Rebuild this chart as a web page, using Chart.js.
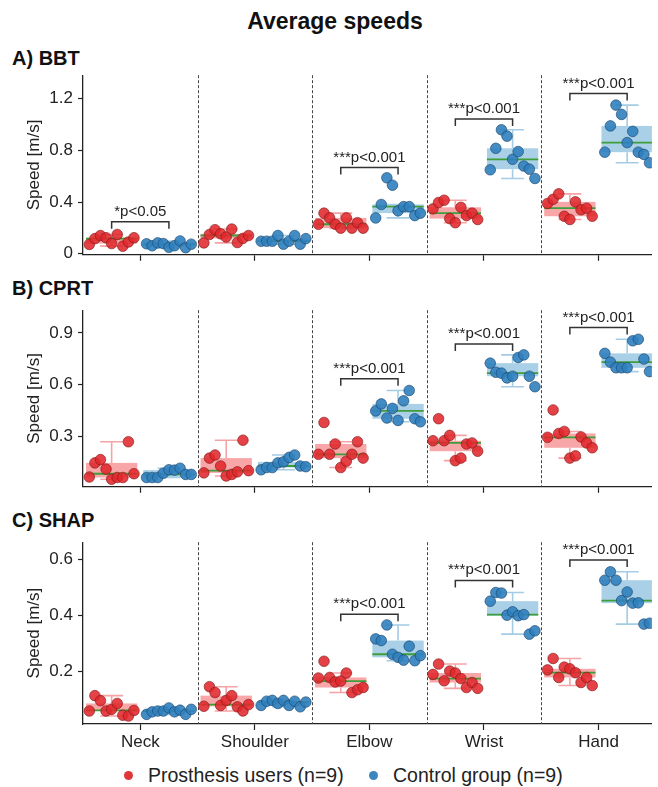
<!DOCTYPE html>
<html>
<head>
<meta charset="utf-8">
<script src="https://cdn.jsdelivr.net/npm/chart.js@4.4.1/dist/chart.umd.min.js"></script>
<style>
  body { margin: 0; background: #fff; overflow: hidden; font-family: "Liberation Sans", Arial, sans-serif; color: #111; }
  #page { position: relative; width: 658px; height: 787px; }
  .abs { position: absolute; white-space: nowrap; line-height: 1; }
  .title { font-weight: bold; font-size: 23px; left: 0; width: 670px; text-align: center; top: 10px; }
  .panel { font-weight: bold; font-size: 20px; left: 12px; }
  canvas { position: absolute; left: 0; }
  .dot { position: absolute; width: 9px; height: 9px; border-radius: 50%; }
  .leg { font-size: 19.5px; color: #222; }
</style>
</head>
<body>
<div id="page">
  <div class="abs title">Average speeds</div>
  <div class="abs panel" style="top:48px">A) BBT</div>
  <div class="abs panel" style="top:278px">B) CPRT</div>
  <div class="abs panel" style="top:510px">C) SHAP</div>
  <canvas id="chartA" width="658" height="210" style="top:60px"></canvas>
  <canvas id="chartB" width="658" height="207" style="top:295px"></canvas>
  <canvas id="chartC" width="658" height="227" style="top:527px"></canvas>
  <div class="dot" style="left:124px; top:771px; background:#e0363a"></div>
  <div class="abs leg" style="left:148px; top:766px">Prosthesis users (n=9)</div>
  <div class="dot" style="left:369px; top:771px; background:#3a87c0"></div>
  <div class="abs leg" style="left:393px; top:766px">Control group (n=9)</div>
</div>
<script>
Chart.defaults.font.family = '"Liberation Sans", Arial, sans-serif';

const joints = ["Neck", "Shoulder", "Elbow", "Wrist", "Hand"];

// each joint: 9 speeds in left-to-right order as plotted
const bbtProsthesis = [
  [0.072, 0.117, 0.141, 0.124, 0.079, 0.149, 0.059, 0.091, 0.124],
  [0.084, 0.149, 0.186, 0.154, 0.129, 0.191, 0.087, 0.119, 0.141],
  [0.228, 0.314, 0.277, 0.228, 0.198, 0.277, 0.198, 0.240, 0.198],
  [0.347, 0.396, 0.414, 0.272, 0.240, 0.359, 0.295, 0.314, 0.265],
  [0.389, 0.421, 0.463, 0.290, 0.265, 0.401, 0.340, 0.352, 0.290]
];
const bbtControl = [
  [0.077, 0.062, 0.084, 0.079, 0.050, 0.062, 0.099, 0.047, 0.074],
  [0.097, 0.097, 0.097, 0.141, 0.074, 0.097, 0.141, 0.074, 0.117],
  [0.277, 0.381, 0.587, 0.530, 0.332, 0.364, 0.364, 0.295, 0.314],
  [0.649, 0.815, 0.958, 0.909, 0.730, 0.790, 0.678, 0.654, 0.582],
  [0.785, 0.988, 1.149, 1.077, 0.859, 0.946, 0.785, 0.768, 0.703]
];
const cprtProsthesis = [
  [0.062, 0.144, 0.163, 0.108, 0.049, 0.059, 0.059, 0.267, 0.081],
  [0.086, 0.172, 0.190, 0.126, 0.068, 0.077, 0.092, 0.276, 0.099],
  [0.194, 0.379, 0.194, 0.254, 0.117, 0.154, 0.194, 0.267, 0.172],
  [0.273, 0.401, 0.273, 0.304, 0.157, 0.172, 0.254, 0.260, 0.212],
  [0.293, 0.452, 0.315, 0.327, 0.172, 0.185, 0.295, 0.260, 0.232]
];
const cprtControl = [
  [0.059, 0.059, 0.059, 0.084, 0.104, 0.102, 0.113, 0.077, 0.077],
  [0.104, 0.117, 0.117, 0.144, 0.150, 0.176, 0.190, 0.126, 0.122],
  [0.446, 0.487, 0.405, 0.461, 0.391, 0.505, 0.565, 0.401, 0.383],
  [0.724, 0.671, 0.666, 0.638, 0.648, 0.757, 0.772, 0.648, 0.587],
  [0.781, 0.730, 0.697, 0.697, 0.697, 0.854, 0.863, 0.748, 0.675]
];
const shapProsthesis = [
  [0.057, 0.112, 0.094, 0.057, 0.063, 0.084, 0.042, 0.039, 0.059],
  [0.074, 0.144, 0.123, 0.077, 0.095, 0.112, 0.072, 0.057, 0.080],
  [0.175, 0.235, 0.177, 0.161, 0.164, 0.193, 0.123, 0.133, 0.141],
  [0.188, 0.225, 0.165, 0.200, 0.193, 0.173, 0.141, 0.159, 0.138],
  [0.204, 0.245, 0.177, 0.214, 0.208, 0.194, 0.159, 0.177, 0.148]
];
const shapControl = [
  [0.045, 0.054, 0.057, 0.057, 0.068, 0.054, 0.060, 0.045, 0.063],
  [0.077, 0.092, 0.095, 0.084, 0.095, 0.077, 0.092, 0.072, 0.089],
  [0.315, 0.309, 0.365, 0.260, 0.249, 0.239, 0.289, 0.237, 0.255],
  [0.450, 0.481, 0.479, 0.400, 0.412, 0.398, 0.402, 0.332, 0.344],
  [0.525, 0.555, 0.525, 0.452, 0.483, 0.443, 0.444, 0.368, 0.371]
];

const bbtTicks = [0, 0.4, 0.8, 1.2];
const bbtTickLabels = ["0", "0.4", "0.8", "1.2"];
const cprtTicks = [0.3, 0.6, 0.9];
const cprtTickLabels = ["0.3", "0.6", "0.9"];
const shapTicks = [0.2, 0.4, 0.6];
const shapTickLabels = ["0.2", "0.4", "0.6"];

// significance brackets: height per joint (null = none) and label
const bbtSigY = [0.247, null, 0.666, 1.042, 1.238];
const bbtSigText = ["*p<0.05", "", "***p<0.001", "***p<0.001", "***p<0.001"];
const cprtSigY = [null, null, 0.633, 0.836, 0.931];
const cprtSigText = ["", "", "***p<0.001", "***p<0.001", "***p<0.001"];
const shapSigY = [null, null, 0.403, 0.524, 0.597];
const shapSigText = ["", "", "***p<0.001", "***p<0.001", "***p<0.001"];

const panels = [
  { id: "chartA", pros: bbtProsthesis, ctrl: bbtControl, min: -0.008, max: 1.38,
    ticks: bbtTicks, tickLabels: bbtTickLabels, sigY: bbtSigY, sigText: bbtSigText,
    padTop: 13, xHeight: 10, showX: false },
  { id: "chartB", pros: cprtProsthesis, ctrl: cprtControl, min: 0.005, max: 1.032,
    ticks: cprtTicks, tickLabels: cprtTickLabels, sigY: cprtSigY, sigText: cprtSigText,
    padTop: 10, xHeight: 10, showX: false },
  { id: "chartC", pros: shapProsthesis, ctrl: shapControl, min: 0.0105, max: 0.661,
    ticks: shapTicks, tickLabels: shapTickLabels, sigY: shapSigY, sigText: shapSigText,
    padTop: 10, xHeight: 30, showX: true }
];

const groupStyle = [
  { shift: -0.25, box: "#f8a6a8", whisker: "#f6a3a6", point: "rgba(224,40,44,0.88)", edge: "rgba(130,25,25,0.8)" },
  { shift: 0.25, box: "#a9d0e6", whisker: "#a4cce5", point: "rgba(48,128,190,0.9)", edge: "rgba(25,70,110,0.8)" }
];
const boxHalf = 0.224;
const capHalf = 0.1;
const jitterHalf = 0.195;

const boxStats = (vals) => {
  const s = [...vals].sort((a, b) => a - b);
  const q = (p) => {
    const pos = (s.length - 1) * p;
    const lo = Math.floor(pos);
    const hi = Math.min(lo + 1, s.length - 1);
    return s[lo] + (s[hi] - s[lo]) * (pos - lo);
  };
  const q1 = q(0.25), med = q(0.5), q3 = q(0.75);
  const iqr = q3 - q1;
  const inside = s.filter((v) => v >= q1 - 1.5 * iqr && v <= q3 + 1.5 * iqr);
  return { q1, med, q3, lo: Math.min(...inside), hi: Math.max(...inside) };
};

const toPoints = (groups, shift) => {
  const pts = [];
  groups.forEach((vals, j) => {
    vals.forEach((v, k) => {
      const off = -jitterHalf + (2 * jitterHalf * k) / (vals.length - 1);
      pts.push({ x: j + shift + off, y: v });
    });
  });
  return pts;
};

const makeBoxPlugin = (p) => ({
  id: "boxes",
  beforeDatasetsDraw(chart) {
    const { ctx, chartArea: a, scales: { x, y } } = chart;
    ctx.save();
    // dashed separators between joints
    ctx.strokeStyle = "#444";
    ctx.lineWidth = 1;
    ctx.setLineDash([3, 2]);
    for (let i = 0; i < joints.length - 1; i++) {
      const px = Math.round(x.getPixelForValue(i + 0.5)) + 0.5;
      ctx.beginPath();
      ctx.moveTo(px, a.top);
      ctx.lineTo(px, a.bottom);
      ctx.stroke();
    }
    ctx.setLineDash([]);
    ctx.beginPath();
    ctx.rect(a.left, a.top, a.width, a.height);
    ctx.clip();
    [p.pros, p.ctrl].forEach((groups, gi) => {
      const st = groupStyle[gi];
      groups.forEach((vals, j) => {
        const s = boxStats(vals);
        const c = j + st.shift;
        const xl = x.getPixelForValue(c - boxHalf);
        const xr = x.getPixelForValue(c + boxHalf);
        const xc = x.getPixelForValue(c);
        const cl = x.getPixelForValue(c - capHalf);
        const cr = x.getPixelForValue(c + capHalf);
        ctx.strokeStyle = st.whisker;
        ctx.lineWidth = 1.6;
        ctx.beginPath();
        ctx.moveTo(xc, y.getPixelForValue(s.lo));
        ctx.lineTo(xc, y.getPixelForValue(s.q1));
        ctx.moveTo(xc, y.getPixelForValue(s.q3));
        ctx.lineTo(xc, y.getPixelForValue(s.hi));
        ctx.moveTo(cl, y.getPixelForValue(s.lo));
        ctx.lineTo(cr, y.getPixelForValue(s.lo));
        ctx.moveTo(cl, y.getPixelForValue(s.hi));
        ctx.lineTo(cr, y.getPixelForValue(s.hi));
        ctx.stroke();
        ctx.fillStyle = st.box;
        const yt = y.getPixelForValue(s.q3);
        ctx.fillRect(xl, yt, xr - xl, y.getPixelForValue(s.q1) - yt);
        ctx.strokeStyle = "#3f9e3a";
        ctx.lineWidth = 1.8;
        ctx.beginPath();
        ctx.moveTo(xl, y.getPixelForValue(s.med));
        ctx.lineTo(xr, y.getPixelForValue(s.med));
        ctx.stroke();
      });
    });
    ctx.restore();
  },
  afterDatasetsDraw(chart) {
    const { ctx, scales: { x, y } } = chart;
    ctx.save();
    ctx.strokeStyle = "#333";
    ctx.lineWidth = 1.5;
    ctx.fillStyle = "#222";
    ctx.font = '15px "Liberation Sans", Arial, sans-serif';
    ctx.textAlign = "center";
    ctx.textBaseline = "alphabetic";
    p.sigY.forEach((h, j) => {
      if (h === null) return;
      const x1 = x.getPixelForValue(j + groupStyle[0].shift);
      const x2 = x.getPixelForValue(j + groupStyle[1].shift);
      const py = y.getPixelForValue(h);
      ctx.beginPath();
      ctx.moveTo(x1, py + 7);
      ctx.lineTo(x1, py);
      ctx.lineTo(x2, py);
      ctx.lineTo(x2, py + 7);
      ctx.stroke();
      ctx.fillText(p.sigText[j], x.getPixelForValue(j), py - 6);
    });
    ctx.restore();
  }
});

panels.forEach((p) => {
  const ctx = document.getElementById(p.id).getContext("2d");
  new Chart(ctx, {
    type: "scatter",
    data: {
      datasets: [
        {
          label: "Prosthesis users (n=9)",
          data: toPoints(p.pros, groupStyle[0].shift),
          backgroundColor: groupStyle[0].point,
          borderColor: groupStyle[0].edge,
          borderWidth: 0.8,
          pointRadius: 5.3,
        },
        {
          label: "Control group (n=9)",
          data: toPoints(p.ctrl, groupStyle[1].shift),
          backgroundColor: groupStyle[1].point,
          borderColor: groupStyle[1].edge,
          borderWidth: 0.8,
          pointRadius: 5.3,
        },
      ],
    },
    options: {
      responsive: false,
      animation: false,
      devicePixelRatio: 1,
      events: [],
      layout: { padding: { top: p.padTop, right: 0, bottom: 0, left: 0 } },
      plugins: { legend: { display: false }, tooltip: { enabled: false } },
      scales: {
        x: {
          type: "linear",
          min: -0.5,
          max: 4.466,
          afterBuildTicks: (s) => { s.ticks = joints.map((_, i) => ({ value: i })); },
          afterFit: (s) => { s.height = p.xHeight; },
          ticks: {
            display: p.showX,
            callback: (v, i) => joints[i],
            font: { size: 17 },
            color: "#222",
            padding: 2,
            autoSkip: false,
            maxRotation: 0,
          },
          grid: { drawOnChartArea: false, tickLength: 6, tickColor: "#222", tickWidth: 1.2 },
          border: { color: "#222", width: 1.3 },
        },
        y: {
          min: p.min,
          max: p.max,
          afterBuildTicks: (s) => { s.ticks = p.ticks.map((v) => ({ value: v })); },
          afterFit: (s) => { s.width = 83; },
          ticks: {
            callback: (v, i) => p.tickLabels[i],
            font: { size: 17 },
            color: "#222",
            padding: 5,
          },
          grid: { drawOnChartArea: false, tickLength: 5, tickColor: "#222", tickWidth: 1.2 },
          border: { color: "#222", width: 1.3 },
          title: {
            display: true,
            text: "Speed [m/s]",
            font: { size: 17 },
            color: "#222",
            padding: { top: 24, bottom: 0 },
          },
        },
      },
    },
    plugins: [makeBoxPlugin(p)],
  });
});
</script>
</body>
</html>
